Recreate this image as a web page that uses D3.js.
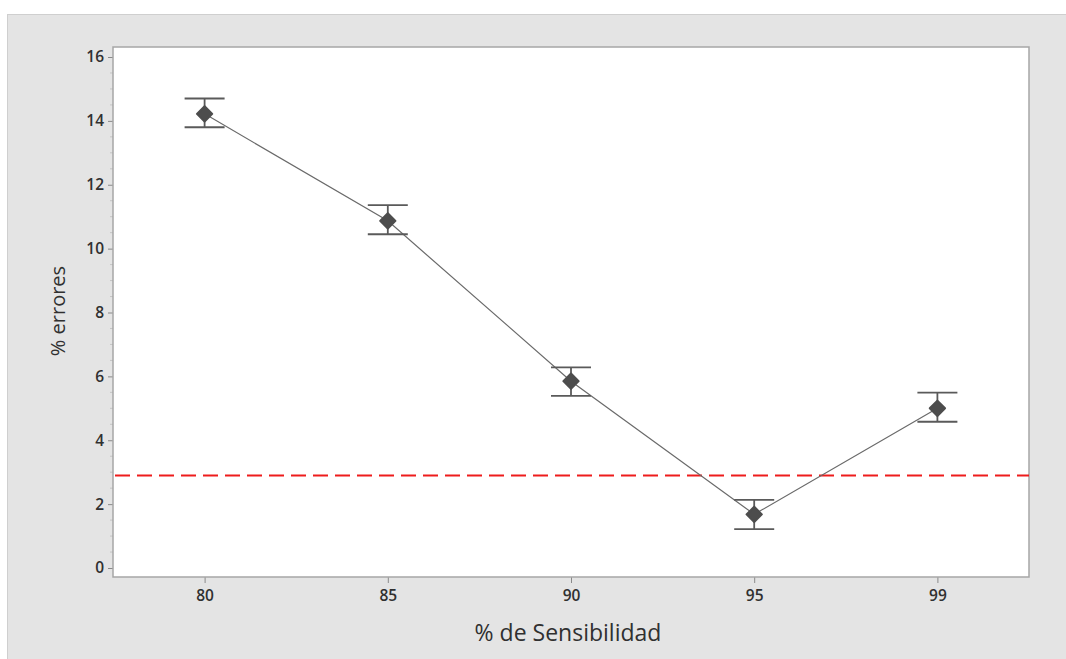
<!DOCTYPE html>
<html>
<head>
<meta charset="utf-8">
<script src="https://cdn.jsdelivr.net/npm/d3@7"></script>
<style>
  body { margin: 0; background: #fff; }
  text { font-family: "Open Sans", "DejaVu Sans", sans-serif; fill: #303030; }
</style>
</head>
<body>
<div id="chart"></div>
<script>
// data
const sensibilidad = ["80", "85", "90", "95", "99"];
const meanErr = [14.22, 10.87, 5.85, 1.68, 5.0];
const lowErr = [13.8, 10.45, 5.39, 1.22, 4.58];
const highErr = [14.7, 11.36, 6.28, 2.13, 5.49];
const refLine = 2.9;
const yTicks = [0, 2, 4, 6, 8, 10, 12, 14, 16];

const width = 1066, height = 659;
const margin = { top: 47, right: 37, bottom: 82, left: 113 };
const plotW = width - margin.left - margin.right,
  plotH = height - margin.top - margin.bottom;

const svg = d3
  .select("#chart")
  .append("svg")
  .attr("width", width)
  .attr("height", height);

// grey frame behind the chart
svg
  .append("rect")
  .attr("x", 7.5)
  .attr("y", 14.5)
  .attr("width", width)
  .attr("height", height)
  .attr("fill", "#e4e4e4")
  .attr("stroke", "#cfcfcf");

const g = svg
  .append("g")
  .attr("transform", "translate(" + margin.left + "," + margin.top + ")");

// plot area
g.append("rect")
  .attr("width", plotW)
  .attr("height", plotH)
  .attr("fill", "#fff");

const x = d3.scalePoint().domain(sensibilidad).range([0, plotW]).padding(0.5);
const y = d3.scaleLinear().domain([0, 16]).range([plotH - 9, 10]);

// minor ticks on y
const minor = d3.range(0, 16.01, 0.5).filter((v) => v % 2 != 0);
g.selectAll(".minor")
  .data(minor)
  .join("line")
  .attr("x1", -3)
  .attr("x2", 0)
  .attr("y1", (d) => y(d))
  .attr("y2", (d) => y(d))
  .attr("stroke", "#c4c4c4")
  .attr("stroke-width", 1);

// y axis
const yAxis = g
  .append("g")
  .call(d3.axisLeft(y).tickValues(yTicks).tickSize(5).tickPadding(4));
yAxis.select(".domain").remove();
yAxis.selectAll("line").attr("stroke", "#8a8a8a");
yAxis
  .selectAll("text")
  .style("font-size", "15.5px")
  .style("font-weight", "600")
  .attr("fill", "#333");

// x axis
const xAxis = g
  .append("g")
  .attr("transform", "translate(0," + plotH + ")")
  .call(d3.axisBottom(x).tickSize(6).tickPadding(7));
xAxis.select(".domain").remove();
xAxis.selectAll("line").attr("stroke", "#8a8a8a");
xAxis
  .selectAll("text")
  .style("font-size", "15.5px")
  .style("font-weight", "600")
  .attr("fill", "#333");

// plot border
g.append("rect")
  .attr("width", plotW)
  .attr("height", plotH)
  .attr("fill", "none")
  .attr("stroke", "#a6a6a6")
  .attr("stroke-width", 1.5);

// reference line
g.append("line")
  .attr("x1", 2)
  .attr("x2", plotW)
  .attr("y1", y(refLine))
  .attr("y2", y(refLine))
  .attr("stroke", "#ee1c1c")
  .attr("stroke-width", 2)
  .attr("stroke-dasharray", "15,7");

// connecting line
const line = d3
  .line()
  .x((d, i) => x(sensibilidad[i]))
  .y((d) => y(d));
g.append("path")
  .datum(meanErr)
  .attr("d", line)
  .attr("fill", "none")
  .attr("stroke", "#6a6a6a")
  .attr("stroke-width", 1.2);

// error bars
const bars = g
  .selectAll(".ebar")
  .data(sensibilidad)
  .join("g")
  .attr("class", "ebar")
  .attr("stroke", "#5a5a5a")
  .attr("stroke-width", 1.8);
bars
  .append("line")
  .attr("x1", (d) => x(d))
  .attr("x2", (d) => x(d))
  .attr("y1", (d, i) => y(lowErr[i]))
  .attr("y2", (d, i) => y(highErr[i]));
bars
  .append("line")
  .attr("x1", (d) => x(d) - 20)
  .attr("x2", (d) => x(d) + 20)
  .attr("y1", (d, i) => y(lowErr[i]))
  .attr("y2", (d, i) => y(lowErr[i]));
bars
  .append("line")
  .attr("x1", (d) => x(d) - 20)
  .attr("x2", (d) => x(d) + 20)
  .attr("y1", (d, i) => y(highErr[i]))
  .attr("y2", (d, i) => y(highErr[i]));

// diamonds
g.selectAll(".dot")
  .data(meanErr)
  .join("path")
  .attr("class", "dot")
  .attr("d", d3.symbol().type(d3.symbolDiamond2).size(150))
  .attr("transform", (d, i) => "translate(" + x(sensibilidad[i]) + "," + y(d) + ")")
  .attr("fill", "#4d4d4d")
  .attr("stroke", "#4d4d4d")
  .attr("stroke-width", 2)
  .attr("stroke-linejoin", "round");

// axis titles
svg
  .append("text")
  .attr("x", 568)
  .attr("y", 641)
  .attr("text-anchor", "middle")
  .style("font-size", "23px")
  .text("% de Sensibilidad");

svg
  .append("text")
  .attr("transform", "translate(65,311) rotate(-90)")
  .attr("text-anchor", "middle")
  .style("font-size", "20px")
  .text("% errores");
</script>
</body>
</html>
